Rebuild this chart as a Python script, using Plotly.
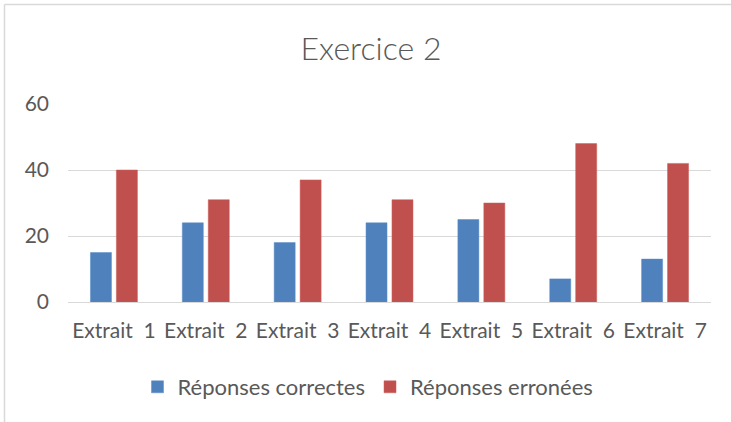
import plotly.graph_objects as go

categories = ["Extrait\u00a0\u00a01", "Extrait\u00a0\u00a02", "Extrait\u00a0\u00a03",
              "Extrait\u00a0\u00a04", "Extrait\u00a0\u00a05", "Extrait\u00a0\u00a06",
              "Extrait\u00a0\u00a07"]
correctes = [15, 24, 18, 24, 25, 7, 13]
erronees = [40, 31, 37, 31, 30, 48, 42]
y_ticks = [0, 20, 40, 60]

FONT = "Lato, Carlito, Calibri, sans-serif"
TXT = "#595959"
W, H = 731, 422
ML, MR, MT, MB = 68, 20, 104, 120

fig = go.Figure()
fig.add_trace(go.Bar(x=categories, y=correctes, name="Réponses correctes",
                     marker=dict(color="#4F81BD", line=dict(color="#5B8CC6", width=0.5))))
fig.add_trace(go.Bar(x=categories, y=erronees, name="Réponses erronées",
                     marker=dict(color="#C0504D", line=dict(color="#CB5F5C", width=0.5))))

pw = W - ML - MR
ph = H - MT - MB
def px_x(p):
    return (p - ML) / pw
def px_y(p):
    return (H - MB - p) / ph

fig.update_layout(
    width=W, height=H,
    margin=dict(l=ML, r=MR, t=MT, b=MB),
    paper_bgcolor="white", plot_bgcolor="white",
    font=dict(family=FONT, color=TXT, size=21),
    title=dict(text="Exercice 2", x=px_x(371), xanchor="center", xref="paper",
               y=1 - 49 / H, yanchor="middle", font=dict(size=32, color=TXT, weight=300)),
    barmode="group", bargap=0.435, bargroupgap=0.19,
    showlegend=True,
    legend=dict(orientation="h", x=px_x(368), xanchor="center", y=px_y(387), yanchor="middle",
                font=dict(size=22, color=TXT), itemwidth=30, traceorder="normal"),
    xaxis=dict(showgrid=False, showline=False, ticks="", tickfont=dict(size=21, color=TXT),
               ticklabelstandoff=14),
    yaxis=dict(range=[0, 60], tickvals=y_ticks, showgrid=True, gridcolor="#D9D9D9", gridwidth=1,
               zeroline=True, zerolinecolor="#D9D9D9", zerolinewidth=1, showline=False,
               tickfont=dict(size=21, color=TXT), ticklabelstandoff=18),
    shapes=[
        dict(type="line", xref="paper", yref="paper", x0=px_x(4.5), x1=px_x(731), y0=px_y(4.5), y1=px_y(4.5),
             line=dict(color="#D9D9D9", width=1.5)),
        dict(type="line", xref="paper", yref="paper", x0=px_x(4.5), x1=px_x(4.5), y0=px_y(4.5), y1=px_y(422),
             line=dict(color="#D9D9D9", width=1.5)),
    ],
)

fig.write_html("out.html", config={"displayModeBar": False},
               post_script="document.body.style.margin='0';")
